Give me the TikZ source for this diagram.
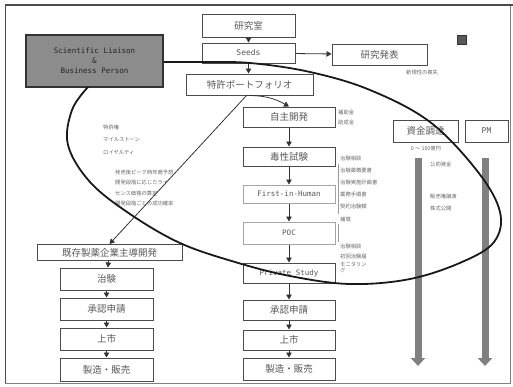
\documentclass[tikz,border=0pt]{standalone}
\usepackage{fontspec}
\setmainfont{Noto Sans CJK JP}
\newfontfamily\monof{DejaVu Sans Mono}
\usetikzlibrary{arrows.meta}
\begin{document}
\begin{tikzpicture}[x=1pt,y=-1pt,
  box/.style={draw=black!70, line width=1pt, fill=white, text=black!65, inner sep=0pt, font=\fontsize{9.5}{10}\selectfont},
  faintbox/.style={box, draw=black!35},
  small/.style={text=black!60, font=\fontsize{5.3}{6}\selectfont, inner sep=0pt, anchor=west, align=left},
  arr/.style={draw=black!80, line width=0.8pt, -{Triangle[width=5.5pt,length=5pt]}},
  bigarr/.style={draw=black!50, line width=7pt, -{Triangle[width=14pt,length=8pt]}}]
\useasboundingbox (0,0) rectangle (513,386);
% frame
\draw[black!70, line width=1pt] (5,383) -- (5,5) -- (513,5);
\draw[black!50, line width=0.8pt] (5,383) -- (510,383) -- (510,5);
\draw[black!70, line width=1.6pt] (5,5) -- (513,5);

% top nodes
\node[box, minimum width=93pt, minimum height=23pt] (lab) at (248.5,25.5) {研究室};
\node[box, minimum width=93pt, minimum height=20pt] (seeds) at (248.5,53) {\monof\fontsize{8}{9}\selectfont Seeds};
\node[box, minimum width=95pt, minimum height=21pt] (pub) at (379.5,54.5) {研究発表};
\node[small] (pubnote) at (406,72) {新規性の喪失};
\node[fill=black!65, draw=black!80, minimum size=9pt, inner sep=0pt] (icon) at (462,40) {};
\node[box, fill=black!45, draw=black!80, line width=1.2pt, minimum width=137pt, minimum height=52pt, align=center, text=black!85] (sl) at (94.5,61)
  {\monof\fontsize{7.5}{11}\selectfont Scientific Liaison\\ \monof\fontsize{7.5}{11}\selectfont \&\\ \monof\fontsize{7.5}{11}\selectfont Business Person};
\node[box, minimum width=127pt, minimum height=21pt] (pat) at (249.5,84.5) {特許ポートフォリオ};

% main column
\node[box, minimum width=92pt, minimum height=20pt] (own) at (289,117) {自主開発};
\node[box, minimum width=92pt, minimum height=19pt] (tox) at (289,156.5) {毒性試験};
\node[faintbox, minimum width=92pt, minimum height=18pt] (fih) at (289,194) {\monof\fontsize{7.5}{9}\selectfont First-in-Human};
\node[faintbox, minimum width=92pt, minimum height=22pt] (poc) at (289,233) {\monof\fontsize{7.5}{9}\selectfont POC};
\node[box, minimum width=92pt, minimum height=20pt] (pst) at (289,273) {\monof\fontsize{7.5}{9}\selectfont Private Study};
\node[box, minimum width=92pt, minimum height=20pt] (app2) at (289,310) {承認申請};
\node[box, minimum width=92pt, minimum height=20pt] (mkt2) at (289,340) {上市};
\node[box, minimum width=92pt, minimum height=22pt] (mfg2) at (289,369) {製造・販売};

% left column
\node[box, minimum width=145pt, minimum height=16pt] (ex) at (109.5,252.5) {既存製薬企業主導開発};
\node[box, minimum width=93pt, minimum height=22pt] (tri) at (106.5,279) {治験};
\node[box, minimum width=93pt, minimum height=22pt] (app1) at (106.5,309) {承認申請};
\node[box, minimum width=93pt, minimum height=22pt] (mkt1) at (106.5,339) {上市};
\node[box, minimum width=93pt, minimum height=23pt] (mfg1) at (106.5,369.5) {製造・販売};

% right side
\node[box, minimum width=65pt, minimum height=22pt] (fund) at (425.5,131) {資金調達};
\node[box, minimum width=43pt, minimum height=22pt] (pm) at (486.5,131) {\monof\fontsize{8}{9}\selectfont PM};
\node[small, anchor=center] (range) at (426,148) {0 〜 100億円};
\coordinate (ga1) at (418,158);
\coordinate (gb1) at (418,366);
\coordinate (ga2) at (485,158);
\coordinate (gb2) at (485,366);
\draw[bigarr] (ga1) -- (gb1);
\draw[bigarr] (ga2) -- (gb2);
\node[small] (pubfund) at (430,164) {公的資金};
\node[small] (sell) at (430,196) {販売権譲渡};
\node[small] (ipo) at (430,208) {株式公開};

% small notes right of main column
\node[small] (n1) at (338,112) {補助金};
\node[small] (n2) at (338,122) {助成金};
\node[small] (n3) at (340,158) {治験相談};
\node[small] (n4) at (340,170) {治験薬概要書};
\node[small] (n5) at (340,182) {治験実施計画書};
\node[small] (n6) at (340,194) {業務手順書};
\node[small] (n7) at (340,206) {契約治験額};
\node[small] (n8) at (340,219) {補償};
\node[small] (n9) at (340,246) {治験相談};
\node[small] (n10) at (340,256) {初回治験届};
\node[small, align=left] (n11) at (340,268) {モニタリン\\グ};
\draw[black!40, line width=0.6pt] (338,164) -- (338,214);
\draw[black!40, line width=0.6pt] (338,224) -- (338,242);

% small notes left
\node[small] (l1) at (103,127) {特許権};
\node[small] (l2) at (103,140) {マイルストーン};
\node[small] (l3) at (103,153) {ロイヤルティ};
\node[small, align=left, font=\fontsize{5.3}{10.3}\selectfont] (l4) at (115,188) {発売後ピーク時年商予想\\開発段階に応じたライ\\センス価格の算定\\開発段階ごとの成功確率};

% arrows
\draw[arr] (lab) -- (seeds);
\draw[arr] (seeds) -- (pub);
\draw[arr] (seeds.south) -- (pat.north -| seeds.south);
\draw[arr] (pat.south) ++(-3,0) coordinate (ps) to[bend left=15] (own.north);
\draw[arr] (ps) -- (ex.north);
\draw[arr] (own) -- (tox);
\draw[arr] (tox) -- (fih);
\draw[arr] (fih) -- (poc);
\draw[arr] (poc) -- (pst);
\draw[arr] (pst) -- (app2);
\draw[arr] (app2) -- (mkt2);
\draw[arr] (mkt2) -- (mfg2);
\draw[arr] (ex) -- (tri);
\draw[arr] (tri) -- (app1);
\draw[arr] (app1) -- (mkt1);
\draw[arr] (mkt1) -- (mfg1);

% big loop
\draw[black!90, line width=1.8pt] plot[smooth, tension=0.6] coordinates {
 (sl.east |- 0,62) (200,62) (250,63) (310,72) (370,90) (430,122) (478,172) (500,212)
 (494,242) (462,262) (410,279) (350,284) (290,276) (235,262) (180,243) (130,214)
 (90,182) (68,145) (72,110) (88,87)};
\end{tikzpicture}
\end{document}
